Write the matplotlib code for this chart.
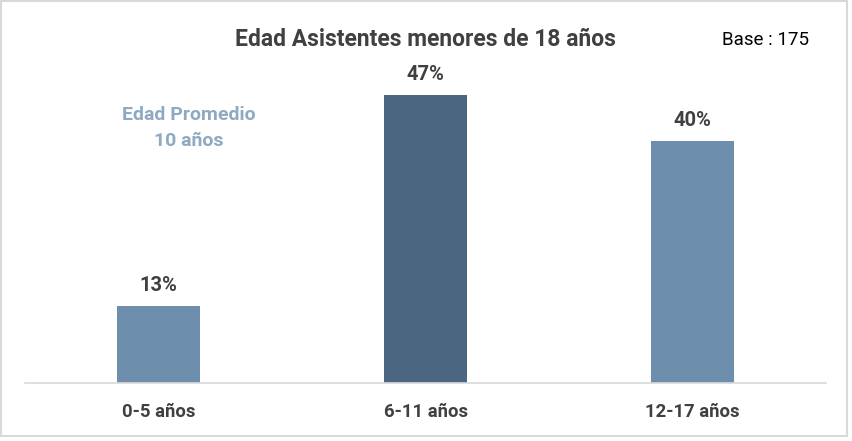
import matplotlib.pyplot as plt
from matplotlib.patches import Rectangle

categories = ['0-5 años', '6-11 años', '12-17 años']
values = [12.6, 47.4, 39.8]
bar_colors = ['#6E8EAD', '#4A6680', '#6E8EAD']

plt.rcParams['font.family'] = ['Roboto', 'DejaVu Sans']
text_col = '#404040'

fig = plt.figure(figsize=(8.52, 4.41), dpi=100)
W, H = 852, 441
ax = fig.add_axes([25 / W, (H - 382.5) / H, 801 / W, 352.5 / H])

x = range(len(categories))
ax.bar(x, values, width=0.313, color=bar_colors)
for xi, v in zip(x, values):
    ax.annotate(f'{v:.0f}%', (xi, v), xytext=(0, 8), textcoords='offset points',
                ha='center', va='bottom', fontsize=14.5, fontweight='bold', color=text_col)

ax.set_xlim(-0.5, 2.5)
ax.set_ylim(0, 58.2)
ax.set_xticks(list(x))
ax.set_xticklabels(categories, fontsize=13.3, fontweight='bold', color=text_col)
ax.tick_params(axis='x', length=0, pad=15)
ax.set_yticks([])
for s in ['top', 'right', 'left']:
    ax.spines[s].set_visible(False)
ax.spines['bottom'].set_color('#D9D9D9')
ax.spines['bottom'].set_linewidth(1.2)

fig.text(425 / W, 1 - 40 / H, 'Edad Asistentes menores de 18 años', ha='center', va='center',
         fontsize=16.5, fontweight='bold', color=text_col)
fig.text(765 / W, 1 - 40 / H, 'Base : 175', ha='center', va='center', fontsize=13.5, color='black')
fig.text(189 / W, 1 - 128 / H, 'Edad Promedio\n10 años', ha='center', va='center',
         fontsize=14, fontweight='bold', color='#8EA9C2', linespacing=1.5)

fig.patches.append(Rectangle((1 / W, 5 / H), 846 / W, 435 / H, transform=fig.transFigure,
                             fill=False, edgecolor='#D9D9D9', linewidth=1.5))

fig.savefig('out.png', dpi=100)
